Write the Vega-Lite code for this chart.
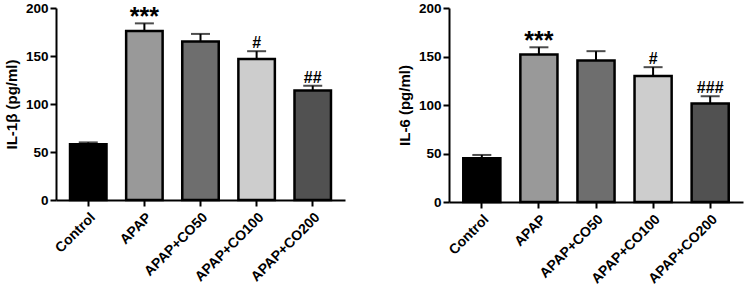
{
  "$schema": "https://vega.github.io/schema/vega-lite/v6.json",
  "padding": {"left": 4, "top": 1, "right": 3, "bottom": 0},
  "background": "white",
  "spacing": 52,
  "config": {
    "view": {"stroke": null},
    "font": "Liberation Sans",
    "axis": {
      "domainColor": "black", "domainWidth": 2, "tickColor": "black", "tickWidth": 2, "tickSize": 6,
      "labelColor": "black", "labelFontWeight": "bold", "labelFont": "Liberation Sans",
      "titleColor": "black", "titleFontWeight": "bold", "titleFont": "Liberation Sans", "grid": false
    }
  },
  "datasets": {
    "il1b": [
      {"group": "Control", "value": 58, "err": 60, "sig": ""},
      {"group": "APAP", "value": 176, "err": 184, "sig": "***"},
      {"group": "APAP+CO50", "value": 165, "err": 173, "sig": ""},
      {"group": "APAP+CO100", "value": 147, "err": 155, "sig": "#"},
      {"group": "APAP+CO200", "value": 114, "err": 119, "sig": "##"}
    ],
    "il6": [
      {"group": "Control", "value": 45, "err": 48.5, "sig": ""},
      {"group": "APAP", "value": 152, "err": 159.5, "sig": "***"},
      {"group": "APAP+CO50", "value": 146, "err": 155.5, "sig": ""},
      {"group": "APAP+CO100", "value": 130, "err": 139, "sig": "#"},
      {"group": "APAP+CO200", "value": 101.5, "err": 109, "sig": "###"}
    ]
  },
  "hconcat": [
    {
      "width": 289, "height": 192,
      "data": {"name": "il1b"},
      "encoding": {
        "x": {"field": "group", "type": "nominal", "sort": null,
          "scale": {"paddingInner": 0.35, "paddingOuter": 0.25},
          "axis": {"title": null, "labelAngle": -45, "labelFontSize": 14, "labelPadding": 4}}
      },
      "layer": [
        {"mark": {"type": "rule", "color": "black", "strokeWidth": 2},
         "encoding": {"y": {"field": "value", "type": "quantitative"}, "y2": {"field": "err"}}},
        {"mark": {"type": "tick", "color": "black", "thickness": 2, "size": 19},
         "encoding": {"y": {"field": "err", "type": "quantitative"}}},
        {"mark": {"type": "bar", "stroke": "black", "strokeWidth": 2.5},
         "encoding": {
           "y": {"field": "value", "type": "quantitative",
             "scale": {"domain": [0, 200]},
             "axis": {"title": "IL-1β (pg/ml)", "values": [0, 50, 100, 150, 200], "labelFontSize": 13.5, "titleFontSize": 15, "titlePadding": 6}},
           "color": {"field": "group", "type": "nominal", "sort": null, "legend": null,
             "scale": {"domain": ["Control", "APAP", "APAP+CO50", "APAP+CO100", "APAP+CO200"],
               "range": ["#000000", "#999999", "#6e6e6e", "#cdcdcd", "#515151"]}}
         }},
        {"transform": [{"filter": "datum.sig == '***'"}],
         "mark": {"type": "text", "baseline": "alphabetic", "dy": 2, "fontSize": 25, "fontWeight": "bold", "font": "Liberation Sans", "color": "black"},
         "encoding": {"y": {"field": "err", "type": "quantitative"}, "text": {"field": "sig"}}},
        {"transform": [{"filter": "datum.sig != '***'"}],
         "mark": {"type": "text", "baseline": "alphabetic", "dy": -3, "fontSize": 16, "fontWeight": "bold", "font": "Liberation Sans", "color": "black"},
         "encoding": {"y": {"field": "err", "type": "quantitative"}, "text": {"field": "sig"}}}
      ]
    },
    {
      "width": 294, "height": 194,
      "data": {"name": "il6"},
      "encoding": {
        "x": {"field": "group", "type": "nominal", "sort": null,
          "scale": {"paddingInner": 0.35, "paddingOuter": 0.25},
          "axis": {"title": null, "labelAngle": -45, "labelFontSize": 14, "labelPadding": 4}}
      },
      "layer": [
        {"mark": {"type": "rule", "color": "black", "strokeWidth": 2},
         "encoding": {"y": {"field": "value", "type": "quantitative"}, "y2": {"field": "err"}}},
        {"mark": {"type": "tick", "color": "black", "thickness": 2, "size": 19},
         "encoding": {"y": {"field": "err", "type": "quantitative"}}},
        {"mark": {"type": "bar", "stroke": "black", "strokeWidth": 2.5},
         "encoding": {
           "y": {"field": "value", "type": "quantitative",
             "scale": {"domain": [0, 200]},
             "axis": {"title": "IL-6 (pg/ml)", "values": [0, 50, 100, 150, 200], "labelFontSize": 13.5, "titleFontSize": 15, "titlePadding": 6}},
           "color": {"field": "group", "type": "nominal", "sort": null, "legend": null,
             "scale": {"domain": ["Control", "APAP", "APAP+CO50", "APAP+CO100", "APAP+CO200"],
               "range": ["#000000", "#999999", "#6e6e6e", "#cdcdcd", "#515151"]}}
         }},
        {"transform": [{"filter": "datum.sig == '***'"}],
         "mark": {"type": "text", "baseline": "alphabetic", "dy": 2, "fontSize": 25, "fontWeight": "bold", "font": "Liberation Sans", "color": "black"},
         "encoding": {"y": {"field": "err", "type": "quantitative"}, "text": {"field": "sig"}}},
        {"transform": [{"filter": "datum.sig != '***'"}],
         "mark": {"type": "text", "baseline": "alphabetic", "dy": -3, "fontSize": 16, "fontWeight": "bold", "font": "Liberation Sans", "color": "black"},
         "encoding": {"y": {"field": "err", "type": "quantitative"}, "text": {"field": "sig"}}}
      ]
    }
  ],
  "resolve": {"scale": {"color": "independent"}}
}
